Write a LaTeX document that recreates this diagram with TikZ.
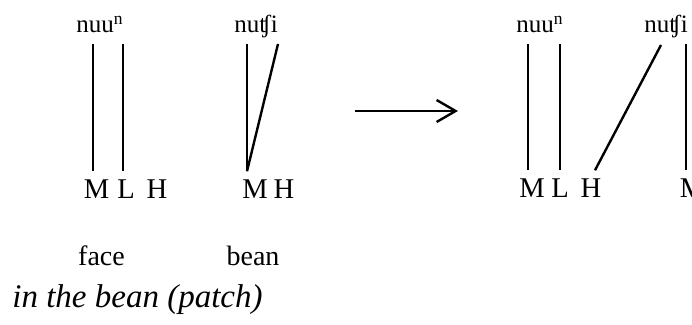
\documentclass[tikz,border=0pt]{standalone}
\usepackage{fontspec}
\setmainfont{Liberation Serif}
\usetikzlibrary{arrows.meta}
\begin{document}
\begin{tikzpicture}[
  x=0.5pt,
  y=-0.5pt,
  word/.style={anchor=base, inner sep=0pt, font=\fontsize{12.5}{14}\selectfont},
  tone/.style={anchor=base, inner sep=0pt, outer sep=4.5pt, font=\fontsize{14.3}{16}\selectfont},
  gloss/.style={anchor=base, inner sep=0pt, font=\fontsize{14}{16}\selectfont},
  assoc/.style={line width=1.2pt}
]
\useasboundingbox (0,0) rectangle (692,325);

% word 1: face
\node[word] (w1) at (100,33) {nuu\textsuperscript{n}};
\coordinate (w1a) at (93,44);
\coordinate (w1b) at (123,44);
\node[tone] (m1) at (96.5,199) {M};
\node[tone] (l1) at (126,199) {L};
\node[tone] (h1) at (157,199) {H};
\draw[assoc] (w1a) -- (w1a |- m1.north);
\draw[assoc] (w1b) -- (w1b |- l1.north);
\node[gloss] (g1) at (101.5,266) {face};

% word 2: bean
\node[word] (w2) at (256,33) {nuʧi};
\coordinate (w2a) at (247,44);
\coordinate (w2b) at (278,44);
\node[tone] (m2) at (255,199) {M};
\node[tone] (h2) at (284,199) {H};
\draw[assoc] (w2a) -- (w2a |- m2.north);
\draw[assoc] (w2b) -- (w2a |- m2.north);
\node[gloss] (g2) at (253,266) {bean};

% arrow
\coordinate (arrS) at (355,111);
\coordinate (arrE) at (458,111);
\draw[line width=1.2pt, -{Straight Barb[length=9.5pt,width=11pt]}] (arrS) -- (arrE);

% result: in the bean
\node[word] (w3) at (540,33) {nuu\textsuperscript{n}};
\coordinate (w3a) at (528,44);
\coordinate (w3b) at (560,44);
\node[word] (w4) at (666,33) {nuʧi};
\coordinate (w4a) at (661,45);
\coordinate (w4b) at (686,44);
\node[tone] (m3) at (532,198) {M};
\node[tone] (l3) at (560,198) {L};
\node[tone] (h3) at (591,198) {H};
\node[tone] (m4) at (692.5,198) {M};
\draw[assoc] (w3a) -- (w3a |- m3.north);
\draw[assoc] (w3b) -- (w3b |- l3.north);
\draw[assoc] (w4a) -- ([xshift=2pt]h3.north);
\draw[assoc] (w4b) -- (w4b |- m4.north);

\node[anchor=base west, inner sep=0pt, font=\fontsize{16.5}{18}\selectfont\itshape] (note) at (12,308) {in the bean (patch)};
\end{tikzpicture}
\end{document}
